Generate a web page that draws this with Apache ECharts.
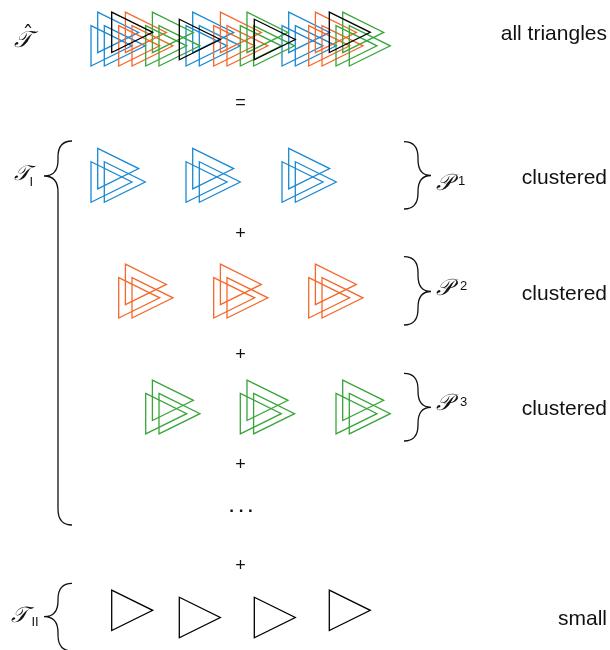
<!DOCTYPE html>
<html>
<head>
<meta charset="utf-8">
<script src="https://cdn.jsdelivr.net/npm/echarts@6/dist/echarts.min.js"></script>
<style>
html,body{margin:0;padding:0;background:#fff;}
#chart{width:610px;height:650px;}
</style>
</head>
<body>
<div id="chart"></div>
<script>
// ---- data (diagram units; x to the right, y downward) ----
const clusterOffsets = [[0, 0], [6.7, -13.4], [13.3, 0]]; // three triangles forming one cluster
const blueX = [91, 186, 282];
const orangeX = [118.7, 213.7, 308.7];
const greenX = [145.7, 240.3, 336];
const blackX = [111.7, 179.3, 254.3, 329.3];
const blackDY = [-7.2, 0, 0, -7.2];
const rowTopY = 45.8;       // combined row (all triangles)
const rowBlueY = 182;
const rowOrangeY = 297.8;
const rowGreenY = 413.7;
const rowBlackTopY = 39.5;
const rowBlackY = 617.5;
const rightLabels = ['all triangles', 'clustered', 'clustered', 'clustered', 'small'];
const rightLabelY = [34, 178.5, 294.5, 409, 619];
const operators = ['=', '+', '+', '+', '+'];
const operatorY = [103, 234.5, 355.5, 465, 566.5];
// braces: [top, tip, bottom]
const leftBraces = [[141, 176, 525], [583.3, 616.7, 651]];
const rightBraces = [[141.7, 175.5, 209], [256.7, 291.5, 325], [373.3, 407.3, 441]];

const TRI_W = 41, TRI_H = 40.5;
const COLORS = { blue: '#1a8ad2', orange: '#f4692b', green: '#3aa53a', black: '#000000' };

function clusterPoints(xs, y) {
  const out = [];
  xs.forEach(x => clusterOffsets.forEach(o => out.push([x + o[0], y + o[1]])));
  return out;
}
function singlePoints(xs, dys, y) {
  return xs.map((x, i) => [x, y + dys[i]]);
}

function triSeries(name, pts, color) {
  return {
    type: 'custom', name: name, coordinateSystem: 'cartesian2d', silent: true,
    data: pts,
    renderItem: function (params, api) {
      const x = api.value(0), y = api.value(1);
      const a = api.coord([x, y - TRI_H / 2]);
      const b = api.coord([x + TRI_W, y]);
      const c = api.coord([x, y + TRI_H / 2]);
      return {
        type: 'polygon',
        shape: { points: [a, b, c] },
        style: { fill: 'none', stroke: color, lineWidth: 1.3, lineJoin: 'miter' }
      };
    }
  };
}

function braceSeries(name, spans, xEnd, xMid, xTip) {
  return {
    type: 'custom', name: name, coordinateSystem: 'cartesian2d', silent: true,
    data: spans,
    renderItem: function (params, api) {
      const top = api.value(0), tip = api.value(1), bot = api.value(2);
      const r = 16;
      const P = (x, y) => api.coord([x, y]);
      const p0 = P(xEnd, top), c1 = P(xMid, top), p1 = P(xMid, top + r);
      const p2 = P(xMid, tip - r), c2 = P(xMid, tip), p3 = P(xTip, tip);
      const p4 = P(xMid, tip + r);
      const p5 = P(xMid, bot - r), c3 = P(xMid, bot), p6 = P(xEnd, bot);
      const d = 'M' + p0 + ' Q' + c1 + ' ' + p1 + ' L' + p2 + ' Q' + c2 + ' ' + p3 +
                ' Q' + c2 + ' ' + p4 + ' L' + p5 + ' Q' + c3 + ' ' + p6;
      return {
        type: 'path',
        shape: { pathData: d.replace(/,/g, ' ') },
        style: { fill: 'none', stroke: '#111', lineWidth: 1.3 }
      };
    }
  };
}

const chart = echarts.init(document.getElementById('chart'), null, { renderer: 'canvas' });

const series = [
  triSeries('blueTop', clusterPoints(blueX, rowTopY), COLORS.blue),
  triSeries('orangeTop', clusterPoints(orangeX, rowTopY), COLORS.orange),
  triSeries('greenTop', clusterPoints(greenX, rowTopY), COLORS.green),
  triSeries('blackTop', singlePoints(blackX, blackDY, rowBlackTopY), COLORS.black),
  triSeries('blue', clusterPoints(blueX, rowBlueY), COLORS.blue),
  triSeries('orange', clusterPoints(orangeX, rowOrangeY), COLORS.orange),
  triSeries('green', clusterPoints(greenX, rowGreenY), COLORS.green),
  triSeries('black', singlePoints(blackX, blackDY, rowBlackY), COLORS.black),
  braceSeries('leftBraces', leftBraces, 72, 58, 44),
  braceSeries('rightBraces', rightBraces, 404, 418, 431)
];

const SANS = '"Liberation Sans", Arial, Helvetica, sans-serif';
const SCRIPT = '"DejaVu Serif", "DejaVu Sans", serif';
const graphics = [];
rightLabels.forEach((t, i) => graphics.push({
  type: 'text', x: 607, y: rightLabelY[i],
  style: { text: t, font: '21px ' + SANS, fill: '#111', align: 'right', verticalAlign: 'middle' }
}));
operators.forEach((t, i) => graphics.push({
  type: 'text', x: 240.5, y: operatorY[i],
  style: { text: t, font: '18px ' + SANS, fill: '#111', align: 'center', verticalAlign: 'middle' }
}));
graphics.push({ type: 'text', x: 241, y: 516,
  style: { text: '. . .', font: 'bold 17px ' + SANS, fill: '#111', align: 'center', verticalAlign: 'bottom' } });
// math labels
function mathLabel(main, mx, my, size, sup, sx, sy) {
  graphics.push({ type: 'text', x: mx, y: my,
    style: { text: main, font: 'italic ' + size + 'px ' + SCRIPT, fill: '#111', align: 'left', verticalAlign: 'middle' } });
  if (sup) graphics.push({ type: 'text', x: sx, y: sy,
    style: { text: sup, font: '13px ' + SANS, fill: '#111', align: 'left', verticalAlign: 'middle' } });
}
mathLabel('\u{1D4AF}', 14, 41, 23);
graphics.push({ type: 'text', x: 28, y: 36,
  style: { text: '\u02C6', font: '22px ' + SCRIPT, fill: '#111', align: 'center', verticalAlign: 'middle' } });
mathLabel('\u{1D4AF}', 14, 175, 21, 'I', 29.5, 182.5);
mathLabel('\u{1D4AF}', 11, 616, 22, 'II', 31.5, 622);
mathLabel('\u{1D4AB}', 436, 184, 23, '1', 458, 181.5);
mathLabel('\u{1D4AB}', 436, 289, 23, '2', 460, 286);
mathLabel('\u{1D4AB}', 436, 404, 23, '3', 460, 402.5);

chart.setOption({
  animation: false,
  backgroundColor: '#ffffff',
  grid: { left: 0, right: 0, top: 0, bottom: 0 },
  xAxis: { type: 'value', min: 0, max: 610, show: false },
  yAxis: { type: 'value', min: 0, max: 650, inverse: true, show: false },
  series: series,
  graphic: graphics
});
</script>
</body>
</html>
